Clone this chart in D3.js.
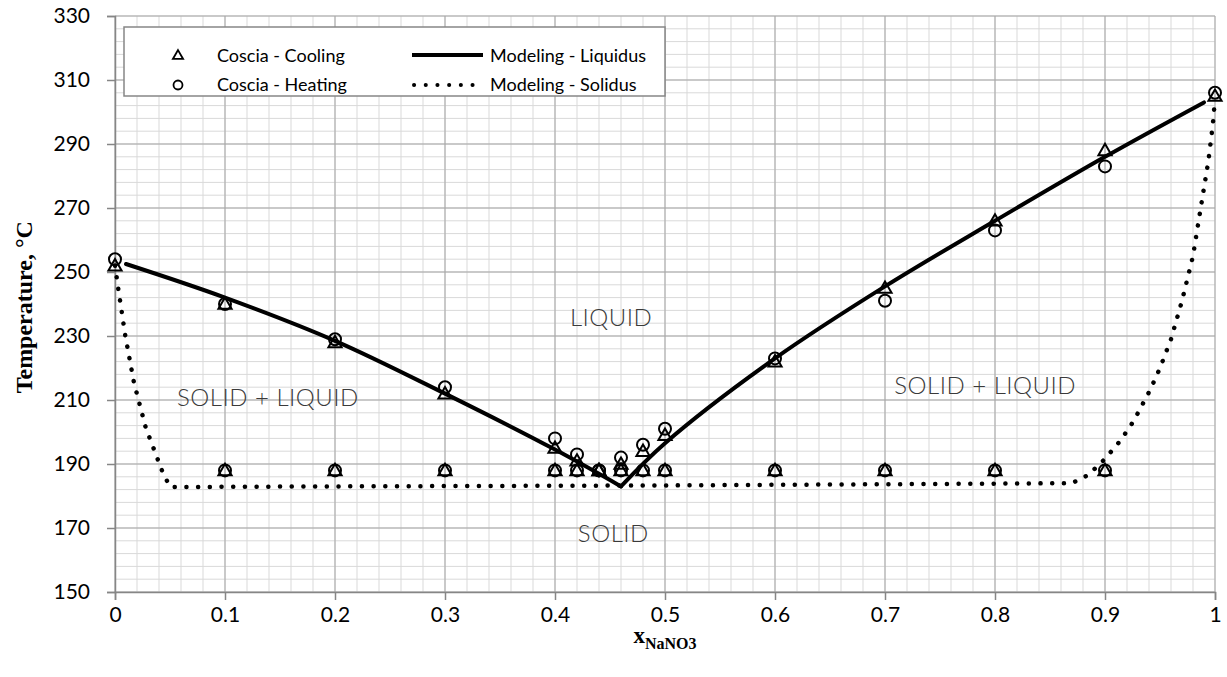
<!DOCTYPE html>
<html>
<head>
<meta charset="utf-8">
<script src="https://cdn.jsdelivr.net/npm/d3@7"></script>
<style>
  body { margin: 0; background: #fff; }
  svg { display: block; }
</style>
</head>
<body>
<div id="container"></div>
<script>
// data
var coolLiq = [[0, 252], [0.1, 240], [0.2, 228], [0.3, 212], [0.4, 195], [0.42, 191], [0.44, 188],
  [0.46, 190], [0.48, 194], [0.5, 199], [0.6, 222], [0.7, 245], [0.8, 266], [0.9, 288], [1, 305]];
var heatLiq = [[0, 254], [0.1, 240], [0.2, 229], [0.3, 214], [0.4, 198], [0.42, 193], [0.44, 188],
  [0.46, 192], [0.48, 196], [0.5, 201], [0.6, 223], [0.7, 241], [0.8, 263], [0.9, 283], [1, 306]];
var solX = [0.1, 0.2, 0.3, 0.4, 0.42, 0.44, 0.46, 0.48, 0.5, 0.6, 0.7, 0.8, 0.9];
var coolSol = solX.map(function (x) { return [x, 188]; });
var heatSol = solX.map(function (x) { return [x, 188]; });

var liqLeft = [[0.01, 252.5], [0.1, 242], [0.2, 228.5], [0.3, 212], [0.4, 194.5], [0.46, 183]];
var liqRight = [[0.46, 183], [0.5, 196.5], [0.6, 223], [0.7, 245.5], [0.8, 266], [0.9, 286], [0.99, 303]];
var solidus = [[0, 252], [0.003, 244.7], [0.0094, 230], [0.0172, 215.5], [0.028, 201.3], [0.043, 187.7],
  [0.05, 182.8], [0.2, 183], [0.5, 183.3], [0.87, 184], [0.885, 186.6], [0.9, 191.6], [0.914, 197.3],
  [0.926, 203.4], [0.941, 213.1], [0.95, 220], [0.96, 229], [0.97, 241], [0.98, 255], [0.987, 270],
  [0.9939, 284.5], [0.998, 296], [1, 304]];

var xTicks = [0, 0.1, 0.2, 0.3, 0.4, 0.5, 0.6, 0.7, 0.8, 0.9, 1];
var yTicks = [150, 170, 190, 210, 230, 250, 270, 290, 310, 330];
var regions = [
  {text: "LIQUID", x: 0.451, t: 233},
  {text: "SOLID + LIQUID", x: 0.139, t: 208},
  {text: "SOLID + LIQUID", x: 0.791, t: 212},
  {text: "SOLID", x: 0.453, t: 165.5}
];

var W = 1227, H = 677;
var svg = d3.select("#container").append("svg").attr("width", W).attr("height", H);

var x = d3.scaleLinear().domain([0, 1]).range([115, 1215]);
var y = d3.scaleLinear().domain([150, 330]).range([592, 16]);

var tickFont = "Lato, 'Open Sans', sans-serif";

// grid
var grid = svg.append("g");
grid.selectAll(".vmin").data(d3.range(0, 1.0001, 0.02))
  .enter().append("line")
  .attr("x1", (d) => x(d)).attr("x2", (d) => x(d))
  .attr("y1", y(150)).attr("y2", y(330))
  .attr("stroke", "#d9d9d9").attr("stroke-width", 1);
grid.selectAll(".hmin").data(d3.range(150, 330.01, 4))
  .enter().append("line")
  .attr("x1", x(0)).attr("x2", x(1))
  .attr("y1", (d) => y(d)).attr("y2", (d) => y(d))
  .attr("stroke", "#d9d9d9").attr("stroke-width", 1);
grid.selectAll(".vmaj").data(xTicks)
  .enter().append("line")
  .attr("x1", (d) => x(d)).attr("x2", (d) => x(d))
  .attr("y1", y(150)).attr("y2", y(330))
  .attr("stroke", "#a6a6a6").attr("stroke-width", 1);
grid.selectAll(".hmaj").data(yTicks)
  .enter().append("line")
  .attr("x1", x(0)).attr("x2", x(1))
  .attr("y1", (d) => y(d)).attr("y2", (d) => y(d))
  .attr("stroke", "#a6a6a6").attr("stroke-width", 1);

// axes
var xAxis = svg.append("g").attr("transform", "translate(0," + y(150) + ")")
  .call(d3.axisBottom(x).tickValues(xTicks).tickSizeOuter(0).tickSize(8).tickPadding(7)
    .tickFormat((d) => d === 0 || d === 1 ? d3.format("d")(d) : d3.format(".1f")(d)));
var yAxis = svg.append("g").attr("transform", "translate(" + x(0) + ",0)")
  .call(d3.axisLeft(y).tickValues(yTicks).tickSizeOuter(0).tickSize(8).tickPadding(17));
[xAxis, yAxis].forEach(function (a) {
  a.select(".domain").attr("stroke", "#868686").attr("stroke-width", 1.5);
  a.selectAll(".tick line").attr("stroke", "#868686").attr("stroke-width", 1.5);
  a.selectAll(".tick text").attr("fill", "#000").style("font-family", tickFont).style("font-size", "21px");
});

// region labels
svg.selectAll(".region").data(regions)
  .enter().append("text")
  .attr("x", (d) => x(d.x)).attr("y", (d) => y(d.t))
  .attr("text-anchor", "middle")
  .attr("fill", "#3a3a3a")
  .style("font-family", "Lato, sans-serif").style("font-weight", 300)
  .style("font-size", "24px").style("letter-spacing", "0.5px")
  .text((d) => d.text);

// model lines
var line = d3.line().x((d) => x(d[0])).y((d) => y(d[1]));
var liqLine = d3.line().x((d) => x(d[0])).y((d) => y(d[1])).curve(d3.curveCatmullRom);
[liqLeft, liqRight].forEach(function (seg) {
  svg.append("path").datum(seg).attr("d", liqLine)
    .attr("fill", "none").attr("stroke", "#000").attr("stroke-width", 4)
    .attr("stroke-linecap", "round");
});
svg.append("path").datum(solidus).attr("d", line)
  .attr("fill", "none").attr("stroke", "#000").attr("stroke-width", 4.5)
  .attr("stroke-linecap", "round").attr("stroke-dasharray", "0.1 11.6");

// markers
var tri = d3.symbol().type(d3.symbolTriangle).size(75);
function drawTri(data) {
  svg.append("g").selectAll("path").data(data).enter().append("path")
    .attr("d", tri)
    .attr("transform", (d) => "translate(" + x(d[0]) + "," + (y(d[1]) + 1) + ")")
    .attr("fill", "none").attr("stroke", "#000").attr("stroke-width", 2);
}
function drawCirc(data) {
  svg.append("g").selectAll("circle").data(data).enter().append("circle")
    .attr("cx", (d) => x(d[0])).attr("cy", (d) => y(d[1])).attr("r", 6)
    .attr("fill", "none").attr("stroke", "#000").attr("stroke-width", 2);
}
drawTri(coolLiq); drawTri(coolSol);
drawCirc(heatLiq); drawCirc(heatSol);

// legend
var lg = svg.append("g");
lg.append("rect").attr("x", 124).attr("y", 27).attr("width", 541).attr("height", 69)
  .attr("fill", "#fff").attr("stroke", "#868686").attr("stroke-width", 1.5);
lg.append("path").attr("d", d3.symbol().type(d3.symbolTriangle).size(45))
  .attr("transform", "translate(178,56)").attr("fill", "none").attr("stroke", "#000").attr("stroke-width", 1.8);
lg.append("circle").attr("cx", 178).attr("cy", 85).attr("r", 4.5)
  .attr("fill", "none").attr("stroke", "#000").attr("stroke-width", 1.8);
lg.append("line").attr("x1", 412).attr("x2", 483).attr("y1", 55).attr("y2", 55)
  .attr("stroke", "#000").attr("stroke-width", 4);
lg.append("line").attr("x1", 414).attr("x2", 483).attr("y1", 85).attr("y2", 85)
  .attr("stroke", "#000").attr("stroke-width", 4).attr("stroke-linecap", "round")
  .attr("stroke-dasharray", "0.1 11.6");
var legText = [["Coscia - Cooling", 217, 56], ["Coscia - Heating", 217, 85],
  ["Modeling - Liquidus", 490, 56], ["Modeling - Solidus", 490, 85]];
lg.selectAll("text").data(legText).enter().append("text")
  .attr("x", (d) => d[1]).attr("y", (d) => d[2]).attr("dy", "0.35em")
  .style("font-family", tickFont).style("font-size", "18px")
  .text((d) => d[0]);

// axis titles
svg.append("text")
  .attr("transform", "translate(32," + y(239) + ") rotate(-90)")
  .attr("text-anchor", "middle")
  .style("font-family", "'Liberation Serif', serif").style("font-weight", "bold").style("font-size", "24px")
  .text("Temperature, °C");
var xt = svg.append("text").attr("x", x(0.5)).attr("y", 643).attr("text-anchor", "middle")
  .style("font-family", "'Liberation Serif', serif").style("font-weight", "bold");
xt.append("tspan").style("font-size", "23px").text("x");
xt.append("tspan").attr("dy", 6).style("font-size", "16px").text("NaNO3");
</script>
</body>
</html>
